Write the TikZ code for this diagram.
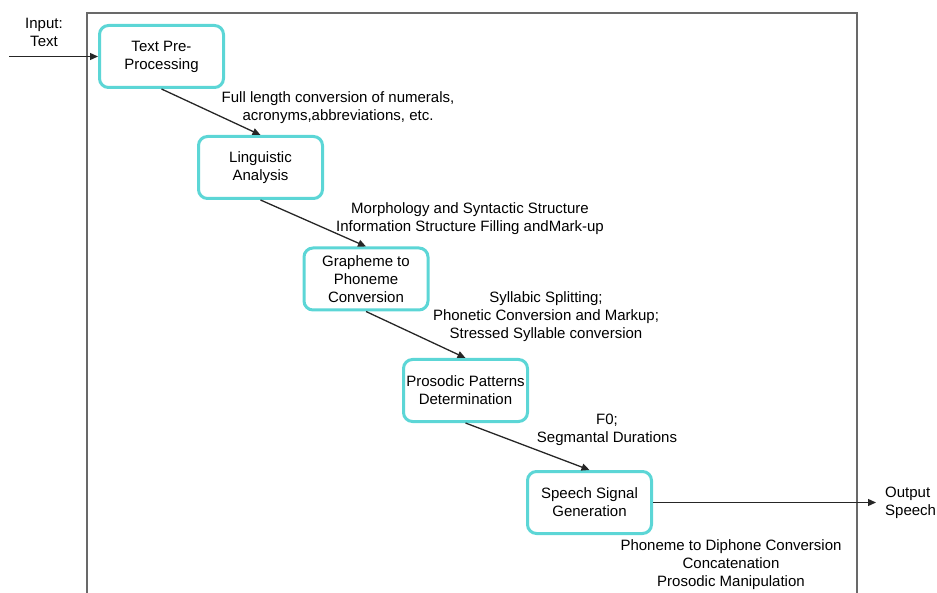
\documentclass[tikz,border=0pt]{standalone}
\usepackage{fontspec}
\setmainfont{Liberation Sans}
\usetikzlibrary{arrows.meta}
\usetikzlibrary{positioning}
\definecolor{stagecyan}{RGB}{92,214,214}
\definecolor{framegray}{RGB}{105,105,105}

\begin{document}
\begin{tikzpicture}[x=1pt,y=-1pt,
	stage/.style={draw=stagecyan, line width=3pt, rounded corners=9pt, fill=white,
		minimum width=124pt, minimum height=62pt, align=center, inner sep=2pt,
		font=\fontsize{15}{18}\selectfont},
	note/.style={align=center, inner sep=0pt, font=\fontsize{15}{18}\selectfont},
	flow/.style={line width=1.3pt, draw=black!85, -{Triangle[width=7pt,length=8pt]}}]
	\useasboundingbox (0,0) rectangle (937,593);
	
	\draw [framegray, line width=1.8pt] (87,600) -- (87,13) -- (857,13) -- (857,600);
	
	\node[stage] (prep) at (161.5,56.5){Text Pre-\\Processing};
	\node[stage] (ling) at (260.5,167.5){Linguistic\\Analysis};
	\node[stage] (graph) at (366,279){Grapheme to\\Phoneme\\Conversion};
	\node[stage] (pros) at (465.5,390.5){Prosodic Patterns\\Determination};
	\node[stage] (signal) at (589.5,502.5){Speech Signal\\Generation};
	
	\node[note] (intxt) at (44,32){Input:\\Text};
	\node[note, align=left, anchor=west, inner xsep=9pt] (outtxt) at (876,503){Output\\Speech};
	\coordinate (instart) at (9,56.5);
	
	\node[note] (numerals) at (338,107.5){Full length conversion of numerals,\\acronyms,abbreviations, etc.};
	\node[note] (morph) at (470,219){Morphology and Syntactic Structure\\Information Structure Filling andMark-up};
	\node[note] (syllable) at (546,317){Syllabic Splitting;\\Phonetic Conversion and Markup;\\Stressed Syllable conversion};
	\node[note] (durations) at (607,430){F0;\\Segmantal Durations};
	\node[note] (diphone) at (731,565){Phoneme to Diphone Conversion\\Concatenation\\Prosodic Manipulation};
	
	\draw[flow] (instart) -- (prep.west);
	\draw[flow] (prep.south) -- (ling.north);
	\draw[flow] (ling.south) -- (graph.north);
	\draw[flow] (graph.south) -- (pros.north);
	\draw[flow] (pros.south) -- (signal.north);
	\draw[flow] (signal.east) -- (signal.east -| outtxt.west);
\end{tikzpicture}
\end{document}
